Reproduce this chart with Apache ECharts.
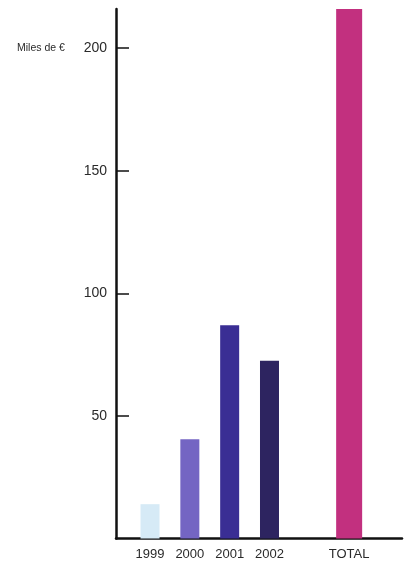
<!DOCTYPE html>
<html>
<head>
<meta charset="utf-8">
<script src="https://cdn.jsdelivr.net/npm/echarts@6/dist/echarts.min.js"></script>
<style>
  html, body { margin: 0; padding: 0; background: #ffffff; }
  #chart { width: 404px; height: 567px; }
</style>
</head>
<body>
<div id="chart"></div>
<script>
// Category slots along the x axis (empty slot leaves a gap before the total)
const categories = ['1999', '2000', '2001', '2002', '', 'TOTAL'];
// Yearly amounts, thousands of euros
const yearValues = [14, 40.5, 87, 72.5];
const yearColors = ['#d6eaf6', '#7465c3', '#3a2e94', '#2d2460'];
// Accumulated total
const totalValue = 216;
const totalColor = '#c2307f';
// Y axis tick labels
const yTicks = [50, 100, 150, 200];

const totalIndex = categories.indexOf('TOTAL');
const labelSlots = categories.map((c, i) => i).filter(i => categories[i] !== '');

const yearData = yearValues.map((v, i) => ({
  value: [i, v],
  itemStyle: { color: yearColors[i] }
}));

const fontFamily = '"Liberation Sans", Arial, sans-serif';
const xRange = { min: -0.854, max: 6.327 };

const chart = echarts.init(document.getElementById('chart'), null, { renderer: 'canvas' });
chart.setOption({
  animation: false,
  backgroundColor: '#ffffff',
  title: {
    text: 'Miles de €',
    left: 17,
    top: 43,
    padding: 0,
    textStyle: { fontSize: 10.5, fontWeight: 'normal', color: '#2a2a2a', fontFamily }
  },
  grid: { left: 116, right: 2, top: 9, bottom: 28.5 },
  xAxis: [
    {
      type: 'value',
      min: xRange.min,
      max: xRange.max,
      axisLine: { show: true, onZero: false, lineStyle: { color: '#111', width: 2.5 } },
      axisTick: { show: false },
      splitLine: { show: false },
      axisLabel: {
        customValues: labelSlots,
        formatter: v => categories[Math.round(v)],
        margin: 9,
        fontSize: 13,
        color: '#2a2a2a',
        fontFamily
      }
    },
    {
      type: 'value',
      min: xRange.min,
      max: xRange.max,
      show: false
    }
  ],
  yAxis: {
    type: 'value',
    min: 0,
    max: totalValue,
    interval: 50,
    axisLine: { show: true, onZero: false, lineStyle: { color: '#111', width: 2.5 } },
    axisTick: {
      show: true,
      inside: true,
      length: 13,
      customValues: yTicks,
      lineStyle: { color: '#111', width: 1.5 }
    },
    splitLine: { show: false },
    axisLabel: {
      customValues: yTicks,
      margin: 9,
      fontSize: 14,
      color: '#2a2a2a',
      fontFamily
    }
  },
  series: [
    {
      type: 'bar',
      xAxisIndex: 0,
      barWidth: 19,
      data: yearData
    },
    {
      type: 'bar',
      xAxisIndex: 1,
      barWidth: 26,
      data: [{ value: [totalIndex, totalValue], itemStyle: { color: totalColor } }]
    }
  ]
});
</script>
</body>
</html>
